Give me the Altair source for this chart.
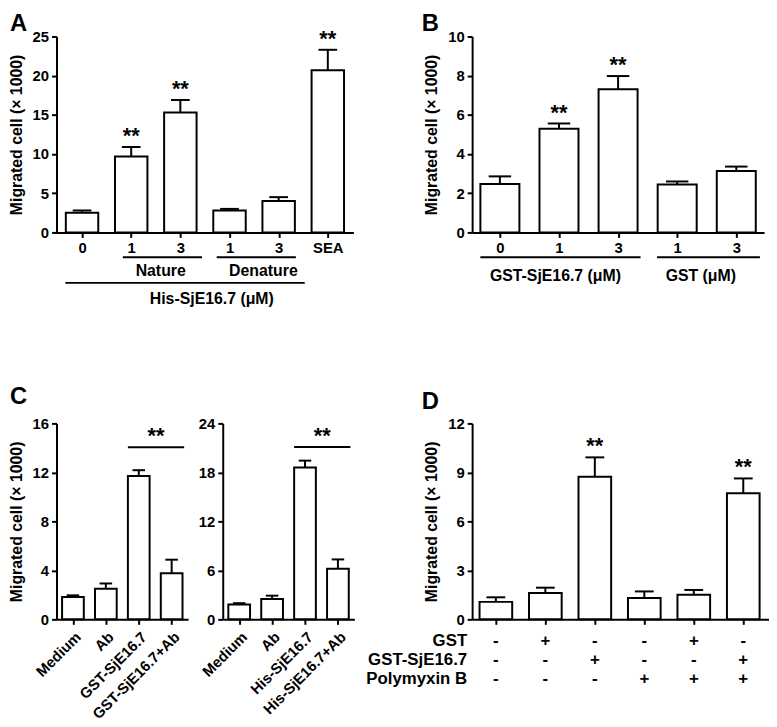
import json
import altair as alt
import pandas as pd

FONT = "Liberation Sans"
YTITLE = "Migrated cell (× 1000)"

# ---------------- Panel A ----------------
a_labels = ["0", "1", "3", "1", "3", "SEA"]
a_mean = [2.5, 9.7, 15.3, 2.8, 4.0, 20.7]
a_upper = [2.8, 10.9, 16.9, 3.0, 4.5, 23.3]
a_stars = ["", "**", "**", "", "", "**"]
a_group_names = ["Nature", "Denature", "His-SjE16.7 (μM)"]
a_group_start = [0.83, 2.74, -0.34]
a_group_end = [2.44, 4.35, 4.53]
a_group_textx = [1.6, 3.69, 2.64]
a_group_level = [1, 1, 2]

# ---------------- Panel B ----------------
b_labels = ["0", "1", "3", "1", "3"]
b_mean = [2.47, 5.29, 7.31, 2.44, 3.13]
b_upper = [2.86, 5.56, 7.98, 2.6, 3.36]
b_stars = ["", "**", "**", "", ""]
b_group_names = ["GST-SjE16.7 (μM)", "GST (μM)"]
b_group_start = [-0.33, 2.66]
b_group_end = [2.38, 4.40]
b_group_textx = [0.94, 3.40]

# ---------------- Panel C ----------------
c1_labels = ["Medium", "Ab", "GST-SjE16.7", "GST-SjE16.7+Ab"]
c1_mean = [1.83, 2.5, 11.7, 3.76]
c1_upper = [1.96, 2.93, 12.18, 4.87]
c1_bracket = [1.67, 3.38, 14.06]   # start, end, value
c2_labels = ["Medium", "Ab", "His-SjE16.7", "His-SjE16.7+Ab"]
c2_mean = [1.82, 2.5, 18.6, 6.2]
c2_upper = [1.98, 2.9, 19.44, 7.34]
c2_bracket = [1.67, 3.38, 21.1]

# ---------------- Panel D ----------------
d_labels = ["1", "2", "3", "4", "5", "6"]
d_mean = [1.07, 1.61, 8.73, 1.31, 1.51, 7.72]
d_upper = [1.35, 1.94, 9.92, 1.71, 1.80, 8.63]
d_stars = ["", "", "**", "", "", "**"]
d_rows = ["GST", "GST-SjE16.7", "Polymyxin B"]
d_gst = ["-", "+", "-", "-", "+", "-"]
d_gstsje = ["-", "-", "+", "-", "-", "+"]
d_polymyxin = ["-", "-", "-", "+", "+", "+"]

HALF = 0.33
CAP = 0.19
H = 198
STAR = 22


def panel(labels, mean, upper, stars, ymax, ystep, width, xdom, ytitle=YTITLE,
          show_labels=True, label_angle=0, letter=None, letter_xy=(-50, -13)):
    n = len(labels)
    df = pd.DataFrame({"i": list(range(n)), "label": labels, "mean": mean,
                       "upper": upper, "star": stars})
    xscale = alt.Scale(domain=xdom, nice=False, zero=False)
    axis_kw = dict(values=list(range(n)), labels=show_labels, grid=False,
                   labelOverlap=False, labelExpr=f"{json.dumps(labels)}[datum.value]",
                   title=None)
    if label_angle:
        axis_kw.update(labelAngle=label_angle, labelAlign="right", labelBaseline="top",
                       labelPadding=5)
    xaxis = alt.Axis(**axis_kw)
    yscale = alt.Scale(domain=[0, ymax], nice=False, zero=True)
    if ytitle:
        yaxis = alt.Axis(values=list(range(0, ymax + 1, ystep)), grid=False,
                         labelOverlap=False, title=ytitle)
    else:
        yaxis = alt.Axis(values=list(range(0, ymax + 1, ystep)), grid=False,
                         labelOverlap=False, title=None)

    def X(f):
        return alt.X(f, type="quantitative", scale=xscale, axis=xaxis, title=None)

    def Y(f):
        if ytitle:
            return alt.Y(f, type="quantitative", scale=yscale, axis=yaxis, title=ytitle)
        return alt.Y(f, type="quantitative", scale=yscale, axis=yaxis, title=None)

    base = alt.Chart(df).transform_calculate(
        lo=f"datum.i - {HALF}", hi=f"datum.i + {HALF}",
        clo=f"datum.i - {CAP}", chi=f"datum.i + {CAP}")
    err = base.mark_rule(color="black", strokeWidth=2).encode(
        x=X("i"), y=Y("mean"), y2="upper:Q")
    cap = base.mark_rule(color="black", strokeWidth=2).encode(
        x=X("clo:Q"), x2="chi:Q", y=Y("upper"))
    bars = base.mark_rect(fill="white", stroke="black", strokeWidth=2).encode(
        x=X("lo:Q"), x2="hi:Q", y=Y("mean"), y2=alt.datum(0))
    star = base.mark_text(font=FONT, fontWeight="bold", fontSize=STAR, dy=-4,
                          baseline="alphabetic", color="black").encode(
        x=X("i"), y=Y("upper"), text="star:N")
    layers = [err, cap, bars, star]
    if letter:
        lt = alt.Chart(pd.DataFrame({"t": [letter]})).mark_text(
            font=FONT, fontWeight="bold", fontSize=24, align="left",
            baseline="alphabetic", color="black").encode(
            text="t:N", x=alt.value(letter_xy[0]), y=alt.value(letter_xy[1]))
        layers.append(lt)
    return layers, X, Y


def groups(names, start, end, textx, line_y, text_y, X, size=16):
    g = pd.DataFrame({"name": names, "s": start, "e": end, "tx": textx})
    line = alt.Chart(g).mark_rule(color="black", strokeWidth=2).encode(
        x=X("s:Q"), x2="e:Q", y=alt.value(line_y))
    txt = alt.Chart(g).mark_text(font=FONT, fontWeight="bold", fontSize=size,
                                 baseline="alphabetic", color="black").encode(
        x=X("tx:Q"), text="name:N", y=alt.value(text_y))
    return [line, txt]


# Panel A
la, XA, YA = panel(a_labels, a_mean, a_upper, a_stars, 25, 5, 300, [-0.52, 5.52],
                   letter="A", letter_xy=(-47, -6))
lvl1 = [k for k, l in enumerate(a_group_level) if l == 1]
lvl2 = [k for k, l in enumerate(a_group_level) if l == 2]
la += groups([a_group_names[k] for k in lvl1], [a_group_start[k] for k in lvl1],
             [a_group_end[k] for k in lvl1], [a_group_textx[k] for k in lvl1], 223, 242, XA)
la += groups([a_group_names[k] for k in lvl2], [a_group_start[k] for k in lvl2],
             [a_group_end[k] for k in lvl2], [a_group_textx[k] for k in lvl2], 249, 270, XA)
chartA = alt.layer(*la).properties(width=300, height=H)

# Panel B
lb, XB, YB = panel(b_labels, b_mean, b_upper, b_stars, 10, 2, 295, [-0.47, 4.47],
                   letter="B", letter_xy=(-51, -6))
lb += groups(b_group_names, b_group_start, b_group_end, b_group_textx, 223, 247, XB)
chartB = alt.layer(*lb).properties(width=295, height=H)


def bracket(vals, X, Y):
    bd = pd.DataFrame({"s": [vals[0]], "e": [vals[1]], "v": [vals[2]],
                       "m": [(vals[0] + vals[1]) / 2], "t": ["**"]})
    r = alt.Chart(bd).mark_rule(color="black", strokeWidth=2).encode(
        x=X("s:Q"), x2="e:Q", y=Y("v"))
    t = alt.Chart(bd).mark_text(font=FONT, fontWeight="bold", fontSize=STAR, dy=-4,
                                baseline="alphabetic", color="black").encode(
        x=X("m:Q"), y=Y("v"), text="t:N")
    return [r, t]


# Panel C
lc1, XC1, YC1 = panel(c1_labels, c1_mean, c1_upper, [""] * 4, 16, 4, 133, [-0.5, 3.5],
                      label_angle=315, letter="C", letter_xy=(-47, -20))
lc1 += bracket(c1_bracket, XC1, YC1)
chartC1 = alt.layer(*lc1).properties(width=133, height=H)

lc2, XC2, YC2 = panel(c2_labels, c2_mean, c2_upper, [""] * 4, 24, 6, 133, [-0.5, 3.5],
                      ytitle=None, label_angle=315)
lc2 += bracket(c2_bracket, XC2, YC2)
chartC2 = alt.layer(*lc2).properties(width=133, height=H)

# Panel D
ld, XD, YD = panel(d_labels, d_mean, d_upper, d_stars, 12, 3, 300, [-0.48, 5.52],
                   show_labels=False, letter="D", letter_xy=(-51, -15))
signs = pd.DataFrame({"i": list(range(6)), "gst": d_gst, "sje": d_gstsje, "pmb": d_polymyxin})
row_y = [225, 244, 263]
for col, yy in zip(["gst", "sje", "pmb"], row_y):
    ld.append(alt.Chart(signs).mark_text(font=FONT, fontWeight="bold", fontSize=17,
                                         baseline="alphabetic", color="black").encode(
        x=XD("i:Q"), y=alt.value(yy), text=f"{col}:N"))
for name, yy in zip(d_rows, row_y):
    ld.append(alt.Chart(pd.DataFrame({"name": [name]})).mark_text(
        font=FONT, fontWeight="bold", fontSize=17, align="right",
        baseline="alphabetic", color="black").encode(
        x=alt.value(-5), y=alt.value(yy), text="name:N"))
chartD = alt.layer(*ld).properties(width=300, height=H)

top = alt.hconcat(chartA, chartB, spacing=120, bounds="flush")
pairC = alt.hconcat(chartC1, chartC2, spacing=35, bounds="flush")
bottom = alt.hconcat(pairC, chartD, spacing=11, bounds="full")
chart = alt.vconcat(top, bottom, spacing=79, bounds="full").configure_view(
    stroke=None
).configure_axis(
    domainColor="black", domainWidth=2, tickColor="black", tickWidth=2, tickSize=5,
    labelFont=FONT, labelFontSize=15, labelFontWeight="bold", labelColor="black",
    labelPadding=3, titleFont=FONT, titleFontSize=16, titleFontWeight="bold",
    titleColor="black", titlePadding=8
).properties(background="white", padding=0)

chart.save("out.html", embed_options={"renderer": "svg", "actions": False})
